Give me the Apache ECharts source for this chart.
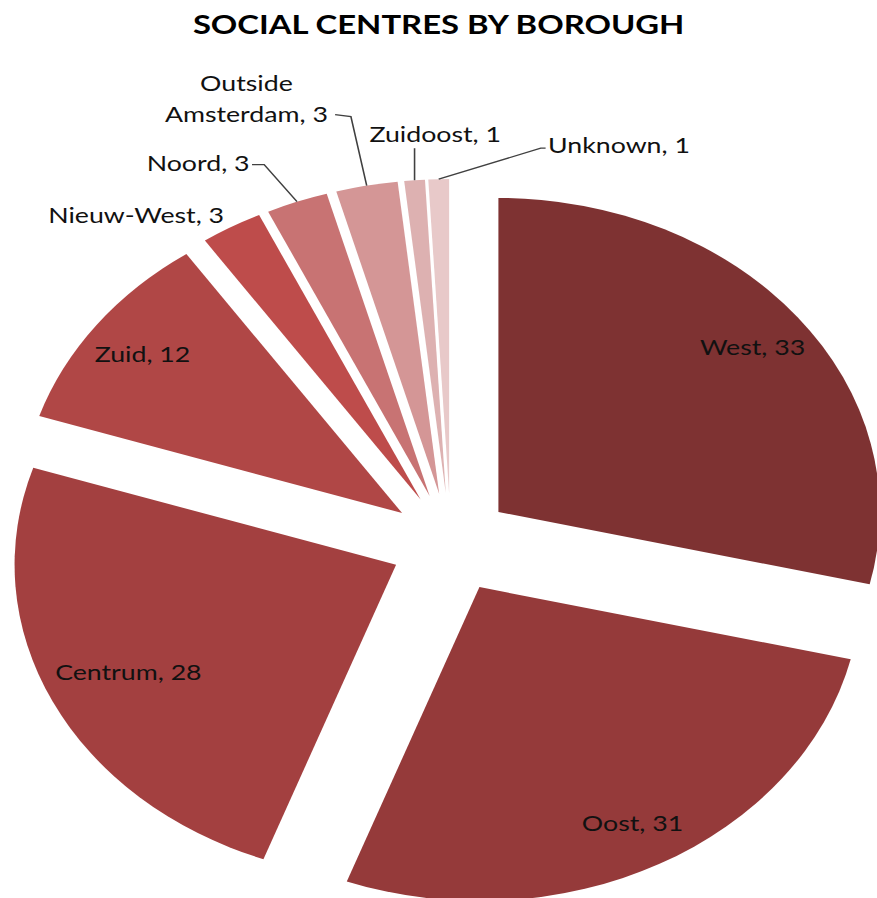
<!DOCTYPE html>
<html><head><meta charset="utf-8">
<script src="https://cdn.jsdelivr.net/npm/echarts@6/dist/echarts.min.js"></script>
<style>
html,body{margin:0;padding:0;overflow:hidden;background:#fff;width:877px;height:898px;}
#wrap{width:877px;height:898px;overflow:hidden;position:relative}
#chart{width:722px;height:898px;transform:scaleX(1.215);transform-origin:0 0;}
</style></head><body><div id="wrap"><div id="chart"></div></div>
<script>
const titleText = 'SOCIAL CENTRES BY BOROUGH';
const categories = ['West', 'Oost', 'Centrum', 'Zuid', 'Nieuw-West', 'Noord', 'Outside\nAmsterdam', 'Zuidoost', 'Unknown'];
const values = [33, 31, 28, 12, 3, 3, 3, 1, 1];
const colors = ['#7E3232', '#953A3A', '#A34040', '#B04746', '#BE4C4B', '#C87373', '#D49696', '#DDB1B1', '#E8C9C9'];
const insideLabelledOuter = ['West', 'Oost', 'Zuid'];
const insideLabelledInner = ['Centrum'];

// placement of the small outside labels, relative to the point where the leader line leaves the exploded slice
const smallLabelPlacement = {
  'Nieuw-West': { line: null, label: [-6, -12], align: 'right' },
  'Noord': { line: [[-27, -37], [-37, -37]], label: [-39, -39], align: 'right' },
  'Outside\nAmsterdam': { line: [[-13, -69], [-26, -71]], label: [-99, -88], align: 'center' },
  'Zuidoost': { line: [[0, -16], [0, -32]], label: [17, -47], align: 'center' },
  'Unknown': { line: [[84, -31], [88, -31]], label: [90, -35], align: 'left' }
};

const CENTER = [371, 543];
const R = 314;
const OFFSET = 50;
const FONT = 'Lato, "Open Sans", sans-serif';
const LABEL_SIZE = 22;

const sliceData = categories.map((name, i) => ({
  name: name,
  value: values[i],
  selected: true,
  itemStyle: { color: colors[i] }
}));

function insideData(list) {
  return categories.map((name, i) => ({
    name: name,
    value: values[i],
    selected: true,
    itemStyle: { color: 'rgba(0,0,0,0)' },
    label: { show: list.indexOf(name) >= 0 }
  }));
}

const outsideLabelData = categories.map((name, i) => {
  const pl = smallLabelPlacement[name];
  return {
    name: name,
    value: values[i],
    itemStyle: { color: 'rgba(0,0,0,0)' },
    label: { show: !!pl },
    labelLine: { show: !!(pl && pl.line) }
  };
});

function insideSeries(innerFrac, list) {
  return {
    type: 'pie',
    center: CENTER,
    radius: [R * innerFrac, R],
    startAngle: 90,
    clockwise: true,
    selectedMode: 'multiple',
    selectedOffset: OFFSET,
    silent: true,
    z: 5,
    emphasis: { disabled: true, scale: false },
    label: {
      position: 'inside',
      formatter: '{b}, {c}',
      fontFamily: FONT,
      fontSize: LABEL_SIZE,
      color: '#111'
    },
    labelLine: { show: false },
    data: insideData(list)
  };
}

const chart = echarts.init(document.getElementById('chart'), null, { renderer: 'svg' });
chart.setOption({
  animation: false,
  title: {
    text: titleText,
    left: 'center',
    top: 5,
    textStyle: { fontFamily: FONT, fontWeight: 'bold', fontSize: 27, color: '#000' }
  },
  series: [
    {
      type: 'pie',
      center: CENTER,
      radius: [0, R],
      startAngle: 90,
      clockwise: true,
      selectedMode: 'multiple',
      selectedOffset: OFFSET,
      silent: true,
      emphasis: { disabled: true, scale: false },
      label: { show: false },
      labelLine: { show: false },
      data: sliceData
    },
    insideSeries(0.68, insideLabelledOuter),
    insideSeries(0.54, insideLabelledInner),
    {
      type: 'pie',
      center: CENTER,
      radius: [0, R],
      startAngle: 90,
      clockwise: true,
      silent: true,
      z: 6,
      avoidLabelOverlap: false,
      emphasis: { disabled: true, scale: false },
      label: {
        position: 'outside',
        formatter: '{b}, {c}',
        fontFamily: FONT,
        fontSize: LABEL_SIZE,
        lineHeight: 31,
        color: '#111'
      },
      labelLine: {
        length: 10,
        length2: 10,
        lineStyle: { color: '#404040', width: 1.3 }
      },
      labelLayout: function (p) {
        const pl = smallLabelPlacement[categories[p.dataIndex]];
        if (!pl || !p.labelLinePoints) return {};
        const a = p.labelLinePoints[0];
        const vx = a[0] - CENTER[0], vy = a[1] - CENTER[1];
        const len = Math.sqrt(vx * vx + vy * vy) || 1;
        const s = [a[0] + vx / len * OFFSET, a[1] + vy / len * OFFSET];
        const res = {
          x: s[0] + pl.label[0],
          y: s[1] + pl.label[1],
          align: pl.align,
          verticalAlign: 'middle'
        };
        if (pl.line) {
          res.labelLinePoints = [
            [s[0], s[1]],
            [s[0] + pl.line[0][0], s[1] + pl.line[0][1]],
            [s[0] + pl.line[1][0], s[1] + pl.line[1][1]]
          ];
        }
        return res;
      },
      data: outsideLabelData
    }
  ]
});
</script></body></html>
